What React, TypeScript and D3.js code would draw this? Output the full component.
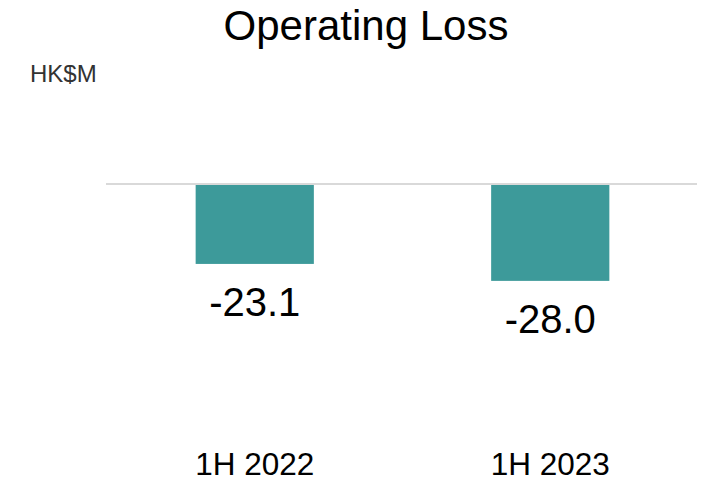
import React from "react";
import * as d3 from "d3";

const categories = ["1H 2022", "1H 2023"];
const values = [-23.1, -28.0];
const valueLabels = ["-23.1", "-28.0"];

const W = 704;
const H = 482;

export default function App() {
  const x = d3
    .scaleBand<string>()
    .domain(categories)
    .range([107, 698])
    .paddingInner(0.6)
    .paddingOuter(0.3);
  const y = d3.scaleLinear().domain([-40, 0]).range([184 + 138.4, 184]);
  const font = "'Liberation Sans', Arial, sans-serif";
  return (
    <svg
      width={W}
      height={H}
      style={{ position: "absolute", left: 0, top: 0, background: "#fff" }}
      fontFamily={font}
    >
      <text x={366} y={40} textAnchor="middle" fontSize={42} fill="#000">
        Operating Loss
      </text>
      <text x={30} y={82} fontSize={24} fill="#333">
        HK$M
      </text>
      <line x1={106} x2={697} y1={y(0)} y2={y(0)} stroke="#d9d9d9" strokeWidth={2} />
      {categories.map((c, i) => (
        <g key={c}>
          <rect
            x={x(c)}
            y={y(0) + 1}
            width={x.bandwidth()}
            height={y(values[i]) - y(0) - 1}
            fill="#3d9a9a"
          />
          <text
            x={(x(c) as number) + x.bandwidth() / 2}
            y={y(values[i]) + 52}
            textAnchor="middle"
            fontSize={40}
            fill="#000"
          >
            {valueLabels[i]}
          </text>
          <text
            x={(x(c) as number) + x.bandwidth() / 2}
            y={475}
            textAnchor="middle"
            fontSize={31.5}
            fill="#000"
          >
            {c}
          </text>
        </g>
      ))}
    </svg>
  );
}
